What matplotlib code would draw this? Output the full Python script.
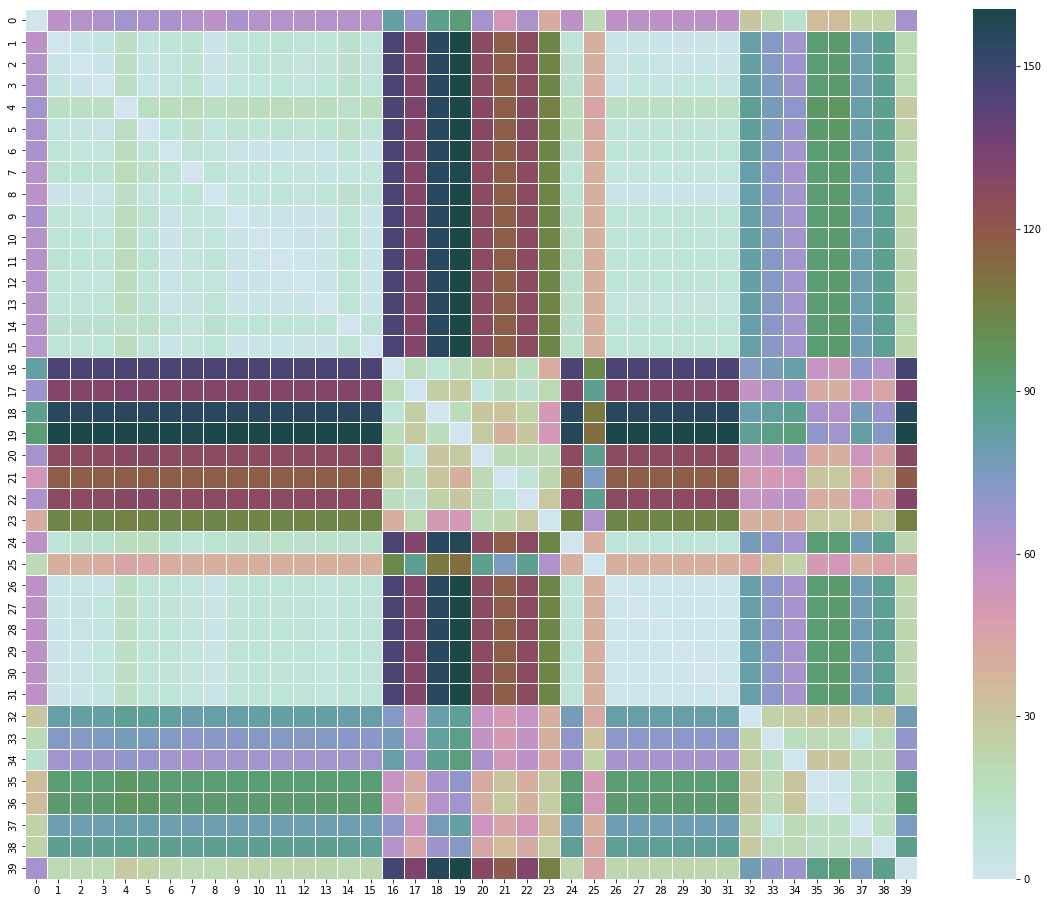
import numpy as np
import matplotlib
matplotlib.use("Agg")
import matplotlib.pyplot as plt
import seaborn as sns

# upper triangle of the distance matrix, row i holds columns i+1 .. 39
upper = [
    [60, 61, 63, 66, 63, 64, 61, 60, 64, 62, 62, 62, 61, 62, 62, 82, 67, 87, 92, 65, 52, 63, 42, 60, 20, 60, 60, 60, 60, 60, 60, 30, 20, 12, 35, 35, 25, 25, 65],
    [4, 6, 15, 8, 9, 11, 3, 9, 10, 11, 9, 9, 12, 9, 146, 131, 155, 160, 127, 118, 127, 104, 10, 40, 4, 4, 4, 3, 4, 3, 81, 73, 66, 91, 93, 79, 86, 21],
    [3, 15, 6, 8, 11, 4, 8, 9, 10, 8, 9, 12, 9, 146, 131, 155, 160, 127, 118, 127, 104, 12, 40, 5, 6, 5, 5, 5, 4, 82, 73, 67, 91, 93, 79, 86, 21],
    [15, 5, 7, 11, 5, 8, 8, 9, 8, 9, 12, 9, 146, 131, 155, 160, 127, 118, 127, 104, 12, 41, 5, 7, 6, 7, 7, 6, 82, 74, 67, 92, 93, 79, 86, 21],
    [16, 17, 18, 15, 17, 17, 18, 17, 17, 14, 17, 146, 132, 155, 160, 129, 118, 129, 106, 17, 44, 15, 15, 15, 15, 15, 15, 85, 76, 70, 95, 96, 81, 87, 28],
    [10, 13, 7, 11, 10, 11, 10, 11, 14, 10, 146, 131, 155, 160, 128, 118, 128, 105, 17, 43, 10, 10, 10, 10, 10, 10, 84, 75, 68, 93, 95, 80, 87, 25],
    [9, 8, 5, 3, 4, 5, 5, 9, 4, 146, 131, 155, 160, 127, 118, 127, 104, 12, 41, 9, 9, 9, 9, 9, 9, 83, 73, 66, 92, 94, 79, 86, 22],
    [10, 7, 7, 7, 7, 6, 7, 7, 146, 131, 155, 159, 127, 118, 127, 104, 10, 40, 8, 8, 8, 8, 8, 8, 80, 71, 65, 91, 93, 78, 85, 21],
    [8, 8, 9, 8, 9, 12, 9, 146, 131, 155, 160, 127, 118, 127, 104, 11, 40, 4, 4, 4, 4, 4, 4, 81, 72, 66, 91, 93, 79, 86, 21],
    [4, 4, 3, 3, 9, 3, 146, 131, 155, 160, 127, 118, 127, 104, 12, 40, 9, 9, 9, 9, 9, 9, 81, 72, 66, 91, 93, 78, 85, 22],
    [2, 3, 4, 9, 4, 146, 131, 155, 160, 127, 118, 127, 104, 13, 40, 9, 9, 9, 9, 9, 9, 82, 73, 66, 92, 94, 79, 86, 22],
    [2, 4, 9, 4, 146, 131, 155, 160, 127, 118, 127, 104, 14, 40, 9, 9, 9, 9, 9, 9, 82, 73, 66, 92, 94, 79, 86, 22],
    [4, 9, 4, 146, 131, 155, 160, 127, 118, 127, 104, 12, 40, 9, 9, 9, 9, 9, 9, 82, 73, 66, 92, 94, 79, 86, 22],
    [9, 3, 146, 131, 155, 160, 127, 118, 127, 104, 13, 40, 8, 8, 8, 8, 8, 8, 82, 73, 66, 92, 94, 79, 86, 22],
    [9, 146, 131, 155, 160, 127, 118, 127, 104, 12, 40, 9, 9, 9, 9, 9, 9, 80, 72, 66, 91, 93, 78, 85, 21],
    [146, 131, 155, 160, 127, 118, 127, 104, 13, 40, 9, 9, 9, 9, 9, 9, 81, 72, 66, 91, 93, 78, 85, 22],
    [18, 10, 17, 24, 27, 17, 41, 146, 102, 146, 146, 146, 146, 146, 146, 73, 77, 81, 57, 54, 70, 61, 147],
    [26, 28, 8, 17, 12, 21, 130, 86, 131, 131, 131, 131, 131, 131, 58, 61, 64, 42, 40, 55, 45, 132],
    [17, 30, 31, 25, 50, 155, 108, 155, 155, 155, 155, 155, 155, 80, 83, 86, 64, 61, 77, 67, 156],
    [28, 39, 30, 51, 157, 112, 160, 160, 160, 160, 160, 160, 85, 88, 90, 70, 66, 82, 73, 160.5],
    [20, 20, 20, 127, 86, 127, 127, 127, 127, 127, 127, 57, 58, 64, 43, 40, 55, 45, 128],
    [10, 22, 118, 75, 118, 118, 118, 118, 118, 118, 50, 50, 52, 31, 29, 44, 35, 119],
    [29, 127, 86, 127, 127, 127, 127, 127, 127, 57, 58, 60, 41, 39, 52, 43, 130],
    [104, 63, 104, 104, 104, 104, 104, 104, 40, 40, 42, 29, 27, 35, 27, 106],
    [40, 10, 10, 10, 10, 10, 10, 77, 70, 65, 91, 91, 78, 85, 22],
    [40, 40, 40, 40, 40, 40, 43, 32, 25, 50, 52, 40, 44, 44],
    [2, 2, 2, 2, 2, 81, 71, 65, 91, 93, 78, 85, 22],
    [2, 2, 2, 2, 81, 71, 65, 91, 93, 78, 85, 22],
    [2, 2, 2, 81, 71, 65, 91, 93, 78, 85, 22],
    [2, 2, 81, 71, 65, 91, 93, 78, 85, 22],
    [2, 81, 71, 65, 91, 93, 78, 85, 22],
    [81, 71, 65, 91, 93, 78, 85, 22],
    [24, 27, 30, 30, 24, 28, 78],
    [17, 20, 20, 8, 18, 69],
    [30, 30, 20, 20, 67],
    [2, 15, 15, 88],
    [15, 15, 92],
    [15, 75],
    [87],
    [],
]

n = len(upper)
dist = np.zeros((n, n))
for i in range(n):
    for k, v in enumerate(upper[i]):
        j = i + 1 + k
        dist[i, j] = v
        dist[j, i] = v

# cubehelix colormap, light for near, dark for far
cmap = sns.cubehelix_palette(start=0.61, rot=3.08, gamma=0.91, hue=0.8, light=0.864, dark=0.203, as_cmap=True)

fig = plt.figure(figsize=(1049 / 72, 904 / 72), dpi=72)
ax = fig.add_axes([25 / 1049, 25 / 904, 892 / 1049, 870 / 904])
cax = fig.add_axes([973 / 1049, 25 / 904, 43 / 1049, 870 / 904])

sns.heatmap(dist, cmap=cmap, linewidths=0.8, linecolor="white", ax=ax, cbar_ax=cax)

ax.set_xticklabels(range(n), rotation=0, fontsize=10)
ax.set_yticklabels(range(n), rotation=90, va="center", fontsize=10)
cax.set_yticks([0, 30, 60, 90, 120, 150])
cax.tick_params(labelsize=10)

fig.savefig("out.png", dpi=72)
